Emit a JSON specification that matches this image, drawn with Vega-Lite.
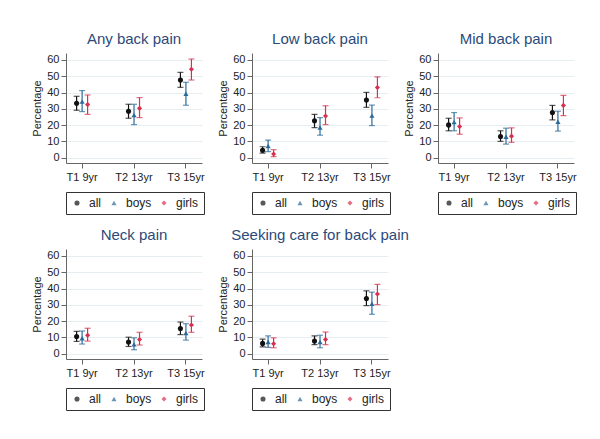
{
  "$schema": "https://vega.github.io/schema/vega-lite/v6.json",
  "background": "white",
  "padding": {"left": 31, "top": 32, "right": 10, "bottom": 10},
  "datasets": {
    "pain": [
      {"outcome": "Any back pain", "time": "T1 9yr", "group": "all", "pct": 33.4, "lo": 29.1, "hi": 37.7},
      {"outcome": "Any back pain", "time": "T1 9yr", "group": "boys", "pct": 34.4, "lo": 28.3, "hi": 41.2},
      {"outcome": "Any back pain", "time": "T1 9yr", "group": "girls", "pct": 32.6, "lo": 26.6, "hi": 38.5},
      {"outcome": "Any back pain", "time": "T2 13yr", "group": "all", "pct": 28.5, "lo": 24.2, "hi": 32.8},
      {"outcome": "Any back pain", "time": "T2 13yr", "group": "boys", "pct": 26.2, "lo": 20.3, "hi": 32.8},
      {"outcome": "Any back pain", "time": "T2 13yr", "group": "girls", "pct": 30.3, "lo": 24.6, "hi": 36.9},
      {"outcome": "Any back pain", "time": "T3 15yr", "group": "all", "pct": 47.7, "lo": 43.2, "hi": 52.4},
      {"outcome": "Any back pain", "time": "T3 15yr", "group": "boys", "pct": 39.3, "lo": 32.2, "hi": 46.3},
      {"outcome": "Any back pain", "time": "T3 15yr", "group": "girls", "pct": 54.3, "lo": 47.7, "hi": 60.6},
      {"outcome": "Low back pain", "time": "T1 9yr", "group": "all", "pct": 4.5, "lo": 2.8, "hi": 6.7},
      {"outcome": "Low back pain", "time": "T1 9yr", "group": "boys", "pct": 7.1, "lo": 3.7, "hi": 10.8},
      {"outcome": "Low back pain", "time": "T1 9yr", "group": "girls", "pct": 2.2, "lo": 0.6, "hi": 4.9},
      {"outcome": "Low back pain", "time": "T2 13yr", "group": "all", "pct": 22.6, "lo": 18.5, "hi": 26.6},
      {"outcome": "Low back pain", "time": "T2 13yr", "group": "boys", "pct": 18.5, "lo": 13.8, "hi": 24.6},
      {"outcome": "Low back pain", "time": "T2 13yr", "group": "girls", "pct": 25.6, "lo": 20.3, "hi": 31.9},
      {"outcome": "Low back pain", "time": "T3 15yr", "group": "all", "pct": 35.4, "lo": 30.9, "hi": 40.1},
      {"outcome": "Low back pain", "time": "T3 15yr", "group": "boys", "pct": 25.8, "lo": 19.7, "hi": 32.3},
      {"outcome": "Low back pain", "time": "T3 15yr", "group": "girls", "pct": 43.1, "lo": 36.8, "hi": 49.6},
      {"outcome": "Mid back pain", "time": "T1 9yr", "group": "all", "pct": 20.1, "lo": 16.5, "hi": 24.2},
      {"outcome": "Mid back pain", "time": "T1 9yr", "group": "boys", "pct": 21.8, "lo": 16.5, "hi": 27.7},
      {"outcome": "Mid back pain", "time": "T1 9yr", "group": "girls", "pct": 19.1, "lo": 14.4, "hi": 24.4},
      {"outcome": "Mid back pain", "time": "T2 13yr", "group": "all", "pct": 13.0, "lo": 10.0, "hi": 16.5},
      {"outcome": "Mid back pain", "time": "T2 13yr", "group": "boys", "pct": 12.8, "lo": 8.3, "hi": 18.1},
      {"outcome": "Mid back pain", "time": "T2 13yr", "group": "girls", "pct": 13.2, "lo": 9.4, "hi": 18.3},
      {"outcome": "Mid back pain", "time": "T3 15yr", "group": "all", "pct": 27.7, "lo": 23.2, "hi": 32.1},
      {"outcome": "Mid back pain", "time": "T3 15yr", "group": "boys", "pct": 22.0, "lo": 16.3, "hi": 28.5},
      {"outcome": "Mid back pain", "time": "T3 15yr", "group": "girls", "pct": 32.1, "lo": 25.8, "hi": 38.2},
      {"outcome": "Neck pain", "time": "T1 9yr", "group": "all", "pct": 10.5, "lo": 7.5, "hi": 13.7},
      {"outcome": "Neck pain", "time": "T1 9yr", "group": "boys", "pct": 9.5, "lo": 5.9, "hi": 13.9},
      {"outcome": "Neck pain", "time": "T1 9yr", "group": "girls", "pct": 11.3, "lo": 7.7, "hi": 15.6},
      {"outcome": "Neck pain", "time": "T2 13yr", "group": "all", "pct": 7.1, "lo": 4.4, "hi": 10.1},
      {"outcome": "Neck pain", "time": "T2 13yr", "group": "boys", "pct": 5.7, "lo": 2.4, "hi": 9.7},
      {"outcome": "Neck pain", "time": "T2 13yr", "group": "girls", "pct": 8.7, "lo": 5.3, "hi": 13.1},
      {"outcome": "Neck pain", "time": "T3 15yr", "group": "all", "pct": 15.4, "lo": 11.7, "hi": 19.4},
      {"outcome": "Neck pain", "time": "T3 15yr", "group": "boys", "pct": 12.7, "lo": 8.3, "hi": 18.4},
      {"outcome": "Neck pain", "time": "T3 15yr", "group": "girls", "pct": 17.6, "lo": 13.1, "hi": 23.0},
      {"outcome": "Seeking care for back pain", "time": "T1 9yr", "group": "all", "pct": 6.3, "lo": 4.2, "hi": 8.9},
      {"outcome": "Seeking care for back pain", "time": "T1 9yr", "group": "boys", "pct": 7.1, "lo": 3.8, "hi": 10.9},
      {"outcome": "Seeking care for back pain", "time": "T1 9yr", "group": "girls", "pct": 6.1, "lo": 3.6, "hi": 9.7},
      {"outcome": "Seeking care for back pain", "time": "T2 13yr", "group": "all", "pct": 7.7, "lo": 5.5, "hi": 10.9},
      {"outcome": "Seeking care for back pain", "time": "T2 13yr", "group": "boys", "pct": 7.1, "lo": 3.6, "hi": 11.3},
      {"outcome": "Seeking care for back pain", "time": "T2 13yr", "group": "girls", "pct": 8.7, "lo": 5.5, "hi": 13.3},
      {"outcome": "Seeking care for back pain", "time": "T3 15yr", "group": "all", "pct": 33.9, "lo": 29.5, "hi": 38.6},
      {"outcome": "Seeking care for back pain", "time": "T3 15yr", "group": "boys", "pct": 30.7, "lo": 24.2, "hi": 37.8},
      {"outcome": "Seeking care for back pain", "time": "T3 15yr", "group": "girls", "pct": 36.6, "lo": 30.1, "hi": 42.6}
    ]
  },
  "data": {"name": "pain"},
  "columns": 3,
  "spacing": {"row": 86, "column": 50},
  "bounds": "flush",
  "resolve": {"legend": {"color": "independent", "shape": "independent"}},
  "concat": [
    {
      "title": "Any back pain",
      "width": 136, "height": 110,
      "transform": [{"filter": "datum.outcome === 'Any back pain'"}],
      "encoding": {
        "x": {"field": "time", "type": "nominal", "title": null, "scale": {"paddingInner": 0.6, "paddingOuter": 0.11}},
        "xOffset": {"field": "group", "type": "nominal", "scale": {"type": "point", "range": [4.9, 15.9], "padding": 0}},
        "color": {"field": "group", "type": "nominal", "scale": {"domain": ["all", "boys", "girls"], "range": ["#111111", "#2b6a99", "#d6304f"]}, "legend": {"title": null}}
      },
      "layer": [
        {"mark": {"type": "rule", "strokeWidth": 1.2}, "encoding": {"y": {"field": "lo", "type": "quantitative", "title": "Percentage", "scale": {"domain": [-3.3, 64.3], "nice": false, "zero": false}}, "y2": {"field": "hi"}}},
        {"mark": {"type": "tick", "orient": "horizontal", "size": 6, "thickness": 1.2}, "encoding": {"y": {"field": "lo", "type": "quantitative"}}},
        {"mark": {"type": "tick", "orient": "horizontal", "size": 6, "thickness": 1.2}, "encoding": {"y": {"field": "hi", "type": "quantitative"}}},
        {"mark": {"type": "point", "filled": true, "size": 26, "opacity": 1}, "encoding": {"y": {"field": "pct", "type": "quantitative"}, "shape": {"field": "group", "type": "nominal", "scale": {"domain": ["all", "boys", "girls"], "range": ["circle", "triangle-up", "diamond"]}, "legend": {"title": null}}}}
      ]
    },
    {
      "title": "Low back pain",
      "width": 136, "height": 110,
      "transform": [{"filter": "datum.outcome === 'Low back pain'"}],
      "encoding": {
        "x": {"field": "time", "type": "nominal", "title": null, "scale": {"paddingInner": 0.6, "paddingOuter": 0.11}},
        "xOffset": {"field": "group", "type": "nominal", "scale": {"type": "point", "range": [4.9, 15.9], "padding": 0}},
        "color": {"field": "group", "type": "nominal", "scale": {"domain": ["all", "boys", "girls"], "range": ["#111111", "#2b6a99", "#d6304f"]}, "legend": {"title": null}}
      },
      "layer": [
        {"mark": {"type": "rule", "strokeWidth": 1.2}, "encoding": {"y": {"field": "lo", "type": "quantitative", "title": "Percentage", "scale": {"domain": [-3.3, 64.3], "nice": false, "zero": false}}, "y2": {"field": "hi"}}},
        {"mark": {"type": "tick", "orient": "horizontal", "size": 6, "thickness": 1.2}, "encoding": {"y": {"field": "lo", "type": "quantitative"}}},
        {"mark": {"type": "tick", "orient": "horizontal", "size": 6, "thickness": 1.2}, "encoding": {"y": {"field": "hi", "type": "quantitative"}}},
        {"mark": {"type": "point", "filled": true, "size": 26, "opacity": 1}, "encoding": {"y": {"field": "pct", "type": "quantitative"}, "shape": {"field": "group", "type": "nominal", "scale": {"domain": ["all", "boys", "girls"], "range": ["circle", "triangle-up", "diamond"]}, "legend": {"title": null}}}}
      ]
    },
    {
      "title": "Mid back pain",
      "width": 136, "height": 110,
      "transform": [{"filter": "datum.outcome === 'Mid back pain'"}],
      "encoding": {
        "x": {"field": "time", "type": "nominal", "title": null, "scale": {"paddingInner": 0.6, "paddingOuter": 0.11}},
        "xOffset": {"field": "group", "type": "nominal", "scale": {"type": "point", "range": [4.9, 15.9], "padding": 0}},
        "color": {"field": "group", "type": "nominal", "scale": {"domain": ["all", "boys", "girls"], "range": ["#111111", "#2b6a99", "#d6304f"]}, "legend": {"title": null}}
      },
      "layer": [
        {"mark": {"type": "rule", "strokeWidth": 1.2}, "encoding": {"y": {"field": "lo", "type": "quantitative", "title": "Percentage", "scale": {"domain": [-3.3, 64.3], "nice": false, "zero": false}}, "y2": {"field": "hi"}}},
        {"mark": {"type": "tick", "orient": "horizontal", "size": 6, "thickness": 1.2}, "encoding": {"y": {"field": "lo", "type": "quantitative"}}},
        {"mark": {"type": "tick", "orient": "horizontal", "size": 6, "thickness": 1.2}, "encoding": {"y": {"field": "hi", "type": "quantitative"}}},
        {"mark": {"type": "point", "filled": true, "size": 26, "opacity": 1}, "encoding": {"y": {"field": "pct", "type": "quantitative"}, "shape": {"field": "group", "type": "nominal", "scale": {"domain": ["all", "boys", "girls"], "range": ["circle", "triangle-up", "diamond"]}, "legend": {"title": null}}}}
      ]
    },
    {
      "title": "Neck pain",
      "width": 136, "height": 110,
      "transform": [{"filter": "datum.outcome === 'Neck pain'"}],
      "encoding": {
        "x": {"field": "time", "type": "nominal", "title": null, "scale": {"paddingInner": 0.6, "paddingOuter": 0.11}},
        "xOffset": {"field": "group", "type": "nominal", "scale": {"type": "point", "range": [4.9, 15.9], "padding": 0}},
        "color": {"field": "group", "type": "nominal", "scale": {"domain": ["all", "boys", "girls"], "range": ["#111111", "#2b6a99", "#d6304f"]}, "legend": {"title": null}}
      },
      "layer": [
        {"mark": {"type": "rule", "strokeWidth": 1.2}, "encoding": {"y": {"field": "lo", "type": "quantitative", "title": "Percentage", "scale": {"domain": [-3.3, 64.3], "nice": false, "zero": false}}, "y2": {"field": "hi"}}},
        {"mark": {"type": "tick", "orient": "horizontal", "size": 6, "thickness": 1.2}, "encoding": {"y": {"field": "lo", "type": "quantitative"}}},
        {"mark": {"type": "tick", "orient": "horizontal", "size": 6, "thickness": 1.2}, "encoding": {"y": {"field": "hi", "type": "quantitative"}}},
        {"mark": {"type": "point", "filled": true, "size": 26, "opacity": 1}, "encoding": {"y": {"field": "pct", "type": "quantitative"}, "shape": {"field": "group", "type": "nominal", "scale": {"domain": ["all", "boys", "girls"], "range": ["circle", "triangle-up", "diamond"]}, "legend": {"title": null}}}}
      ]
    },
    {
      "title": "Seeking care for back pain",
      "width": 136, "height": 110,
      "transform": [{"filter": "datum.outcome === 'Seeking care for back pain'"}],
      "encoding": {
        "x": {"field": "time", "type": "nominal", "title": null, "scale": {"paddingInner": 0.6, "paddingOuter": 0.11}},
        "xOffset": {"field": "group", "type": "nominal", "scale": {"type": "point", "range": [4.9, 15.9], "padding": 0}},
        "color": {"field": "group", "type": "nominal", "scale": {"domain": ["all", "boys", "girls"], "range": ["#111111", "#2b6a99", "#d6304f"]}, "legend": {"title": null}}
      },
      "layer": [
        {"mark": {"type": "rule", "strokeWidth": 1.2}, "encoding": {"y": {"field": "lo", "type": "quantitative", "title": "Percentage", "scale": {"domain": [-3.3, 64.3], "nice": false, "zero": false}}, "y2": {"field": "hi"}}},
        {"mark": {"type": "tick", "orient": "horizontal", "size": 6, "thickness": 1.2}, "encoding": {"y": {"field": "lo", "type": "quantitative"}}},
        {"mark": {"type": "tick", "orient": "horizontal", "size": 6, "thickness": 1.2}, "encoding": {"y": {"field": "hi", "type": "quantitative"}}},
        {"mark": {"type": "point", "filled": true, "size": 26, "opacity": 1}, "encoding": {"y": {"field": "pct", "type": "quantitative"}, "shape": {"field": "group", "type": "nominal", "scale": {"domain": ["all", "boys", "girls"], "range": ["circle", "triangle-up", "diamond"]}, "legend": {"title": null}}}}
      ]
    }
  ],
  "config": {
    "font": "Liberation Sans",
    "view": {"stroke": null},
    "title": {"fontSize": 15, "fontWeight": "normal", "color": "#2c4a7a", "anchor": "middle", "offset": 6},
    "axis": {"labelFontSize": 11, "titleFontSize": 11, "titleFontWeight": "normal", "labelColor": "#222222", "titleColor": "#222222", "domainColor": "#666666", "tickColor": "#666666", "tickSize": 5},
    "axisX": {"labelAngle": 0, "grid": false, "labelPadding": 3},
    "axisY": {"grid": true, "gridColor": "#e6eef1", "titlePadding": 4, "labelPadding": 2, "tickCount": 7, "labelOverlap": false},
    "legend": {"orient": "bottom", "direction": "horizontal", "strokeColor": "#333333", "padding": 5, "offset": 10, "labelFontSize": 12, "labelColor": "#222222", "symbolSize": 26, "symbolStrokeWidth": 0, "columnPadding": 6, "labelOffset": 6, "symbolOffset": 0}
  }
}
